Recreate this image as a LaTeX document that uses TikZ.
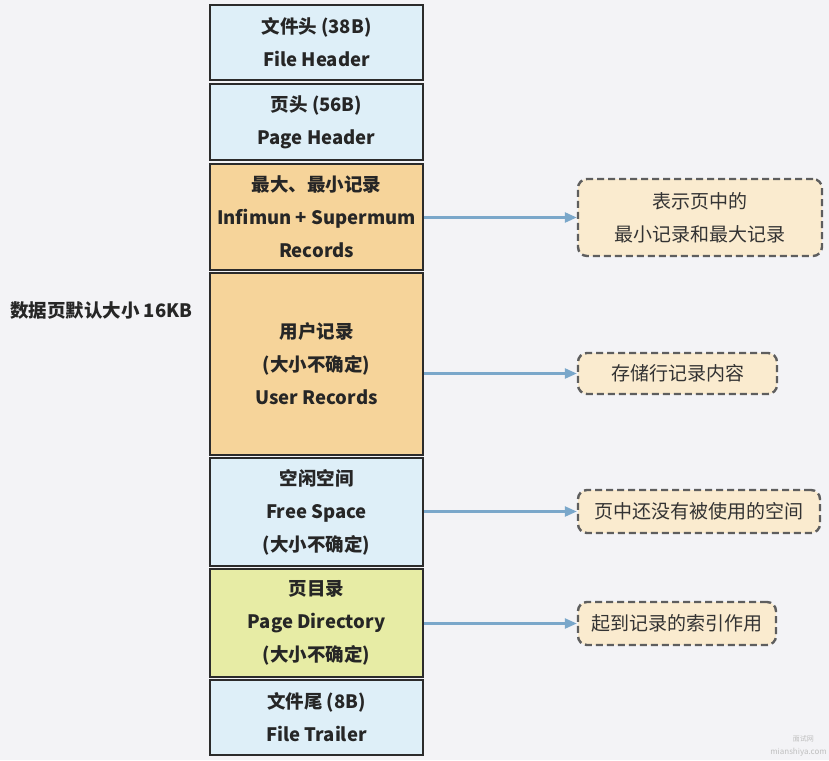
\documentclass[tikz,border=0pt]{standalone}
\usepackage{fontspec}
\setmainfont{Noto Sans CJK SC}
\usetikzlibrary{arrows.meta}
\definecolor{bgc}{HTML}{F3F3F6}
\definecolor{blueF}{HTML}{DEEFF8}
\definecolor{orangeF}{HTML}{F6D49A}
\definecolor{greenF}{HTML}{E7ECA5}
\definecolor{noteF}{HTML}{FAEBCF}
\definecolor{edge}{HTML}{2B2B2B}
\definecolor{noteEdge}{HTML}{5E5E5E}
\definecolor{arrowC}{HTML}{7AA7CA}
\definecolor{txt}{HTML}{262626}
\definecolor{ntxt}{HTML}{333333}
\begin{document}
\begin{tikzpicture}[x=1pt,y=-1pt,
  blk/.style={draw=edge, line width=2.6pt, align=center, inner sep=0pt,
    minimum width=213pt, text=txt,
    font=\fontsize{18.5}{33}\selectfont\bfseries},
  note/.style={draw=noteEdge, fill=noteF, line width=2.4pt, dash pattern=on 7pt off 4pt,
    rounded corners=9pt, align=center, inner sep=0pt, text=ntxt,
    font=\fontsize{19}{33}\selectfont},
  arr/.style={draw=arrowC, line width=2.4pt, -{Triangle[length=12pt,width=10pt]}}
]
\fill[bgc] (0,0) rectangle (829,760);
\useasboundingbox (0,0) rectangle (829,760);

\node[blk, fill=blueF, minimum height=75pt] (fh) at (316.5,42.5) {文件头 (38B)\\File Header};
\node[blk, fill=blueF, minimum height=76pt] (ph) at (316.5,122) {页头 (56B)\\Page Header};
\node[blk, fill=orangeF, minimum height=106pt] (inf) at (316.5,217) {最大、最小记录\\Infimun + Supermum\\Records};
\node[blk, fill=orangeF, minimum height=182pt] (ur) at (316.5,364) {用户记录\\(大小不确定)\\User Records};
\node[blk, fill=blueF, minimum height=108pt] (fs) at (316.5,512) {空闲空间\\Free Space\\(大小不确定)};
\node[blk, fill=greenF, minimum height=108pt] (pd) at (316.5,623) {页目录\\Page Directory\\(大小不确定)};
\node[blk, fill=blueF, minimum height=75pt] (ft) at (316.5,717.5) {文件尾 (8B)\\File Trailer};

\node[anchor=west, inner sep=0pt, text=txt, font=\fontsize{18.5}{20}\selectfont\bfseries] (lbl) at (10,311) {数据页默认大小 16KB};

\node[note, minimum width=244pt, minimum height=77pt] (c1) at (700,217.5) {表示页中的\\最小记录和最大记录};
\node[note, minimum width=199pt, minimum height=41pt] (c2) at (677.5,373.5) {存储行记录内容};
\node[note, minimum width=242pt, minimum height=43pt] (c3) at (699,511.5) {页中还没有被使用的空间};
\node[note, minimum width=198pt, minimum height=43pt] (c4) at (677,623.5) {起到记录的索引作用};

\draw[arr] (inf.east |- c1.west) -- (c1.west);
\draw[arr] (ur.east |- c2.west) -- (c2.west);
\draw[arr] (fs.east |- c3.west) -- (c3.west);
\draw[arr] (pd.east |- c4.west) -- (c4.west);

\node[anchor=east, inner sep=0pt, text=black!25, font=\fontsize{7}{8}\selectfont] (wm1) at (814,739) {面试网};
\node[anchor=east, inner sep=0pt, text=black!25, font=\fontsize{8}{9}\selectfont] (wm2) at (827,752) {mianshiya.com};
\end{tikzpicture}
\end{document}
